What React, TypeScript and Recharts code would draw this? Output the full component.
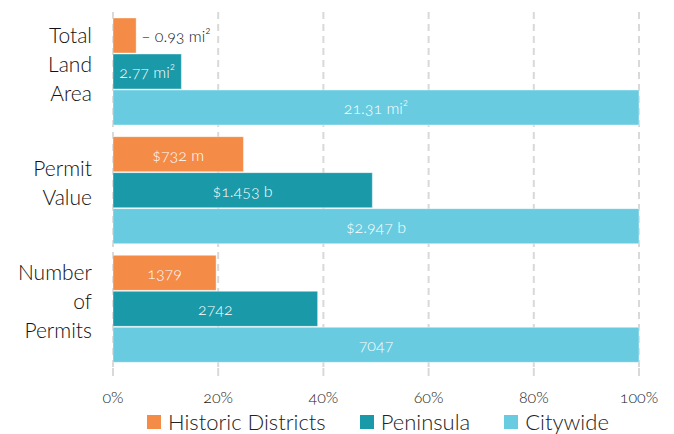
import React from 'react';
import { BarChart, Bar, XAxis, YAxis, CartesianGrid, Legend, LabelList } from 'recharts';

const categories = ['Total Land Area', 'Permit Value', 'Number of Permits'];
const categoryLines = [['Total', 'Land', 'Area'], ['Permit', 'Value'], ['Number', 'of', 'Permits']];

// share of citywide, in percent
const historicPct = [4.4, 24.8, 19.6];
const peninsulaPct = [13.0, 49.3, 38.9];
const citywidePct = [100, 100, 100];

const historicLabels = ['0.93 mi²', '$732 m', '1379'];
const peninsulaLabels = ['2.77 mi²', '$1.453 b', '2742'];
const citywideLabels = ['21.31 mi²', '$2.947 b', '7047'];

const xTicks = [0, 20, 40, 60, 80, 100];

const ORANGE = '#F48B47';
const TEAL = '#1A99A9';
const CYAN = '#68CBE0';
const FONT = 'Lato, "Open Sans", sans-serif';

const series = [
  { key: 'historic', name: 'Historic Districts', color: ORANGE },
  { key: 'peninsula', name: 'Peninsula', color: TEAL },
  { key: 'citywide', name: 'Citywide', color: CYAN },
];

const data = categories.map((name, i) => ({
  name,
  historic: historicPct[i],
  peninsula: peninsulaPct[i],
  citywide: citywidePct[i],
}));

const CategoryTick = (props: any) => {
  const { x, y, payload } = props;
  const lines: string[] = categoryLines[payload.index] || [payload.value];
  const lh = 29;
  const start = y - ((lines.length - 1) * lh) / 2 - 8;
  return (
    <text x={x - 13} y={start} textAnchor="end" fill="#111" fontSize={21} fontFamily={FONT} fontWeight={300}>
      {lines.map((l, i) => (
        <tspan key={i} x={x - 13} y={start + i * lh} dominantBaseline="central">{l}</tspan>
      ))}
    </text>
  );
};

const makeLabel = (labels: string[]) => (props: any) => {
  const { x, y, width, height, index } = props;
  const text = labels[index];
  const cy = y + height / 2;
  const outside = width < 40;
  return (
    <text
      x={outside ? x + width + 5 : x + width / 2}
      y={cy}
      textAnchor={outside ? 'start' : 'middle'}
      dominantBaseline="central"
      fill={outside ? '#111' : '#fff'}
      stroke="none"
      fontSize={16}
      fontWeight={300}
      fontFamily={FONT}
      style={{ fontFeatureSettings: '"onum"' }}
    >
      {outside ? '– ' + text : text}
    </text>
  );
};

const LegendContent = () => (
  <div style={{ display: 'flex', justifyContent: 'flex-start', whiteSpace: 'nowrap', fontFamily: FONT, fontSize: 22, fontWeight: 300, color: '#222', paddingLeft: 147 }}>
    {series.map((s) => (
      <div key={s.key} style={{ display: 'flex', alignItems: 'center', marginRight: 34 }}>
        <span style={{ display: 'inline-block', width: 14, height: 14, background: s.color, marginRight: 7 }} />
        <span>{s.name}</span>
      </div>
    ))}
  </div>
);

const App = () => {
  return (
    <div style={{ position: 'absolute', left: 0, top: 0, width: 674, height: 434, background: '#fff' }}>
      <BarChart
        layout="vertical"
        width={674}
        height={434}
        data={data}
        margin={{ top: 12, right: 35, left: 0, bottom: 0 }}
        barSize={35}
        barGap={1}
      >
        <CartesianGrid horizontal={false} stroke="#d9d9d9" strokeWidth={2} strokeDasharray="7 5" />
        <XAxis
          type="number"
          domain={[0, 100]}
          ticks={xTicks}
          tickFormatter={(v) => v + '%'}
          axisLine={false}
          tickLine={{ stroke: '#d9d9d9', strokeWidth: 2 }}
          tickSize={8}
          tickMargin={16}
          height={40}
          tick={{ fill: '#222', fontSize: 16, fontWeight: 300, fontFamily: FONT, style: { fontFeatureSettings: '"onum"' } } as any}
        />
        <YAxis type="category" dataKey="name" width={113} axisLine={false} tickLine={false} tick={<CategoryTick />} />
        <Legend verticalAlign="bottom" height={26} content={<LegendContent />} />
        {series.map((s, si) => (
          <Bar key={s.key} dataKey={s.key} name={s.name} fill={s.color} stroke="#fff" strokeOpacity={0.4} isAnimationActive={false}>
            <LabelList dataKey={s.key} content={makeLabel([historicLabels, peninsulaLabels, citywideLabels][si])} />
          </Bar>
        ))}
      </BarChart>
    </div>
  );
};

export default App;
